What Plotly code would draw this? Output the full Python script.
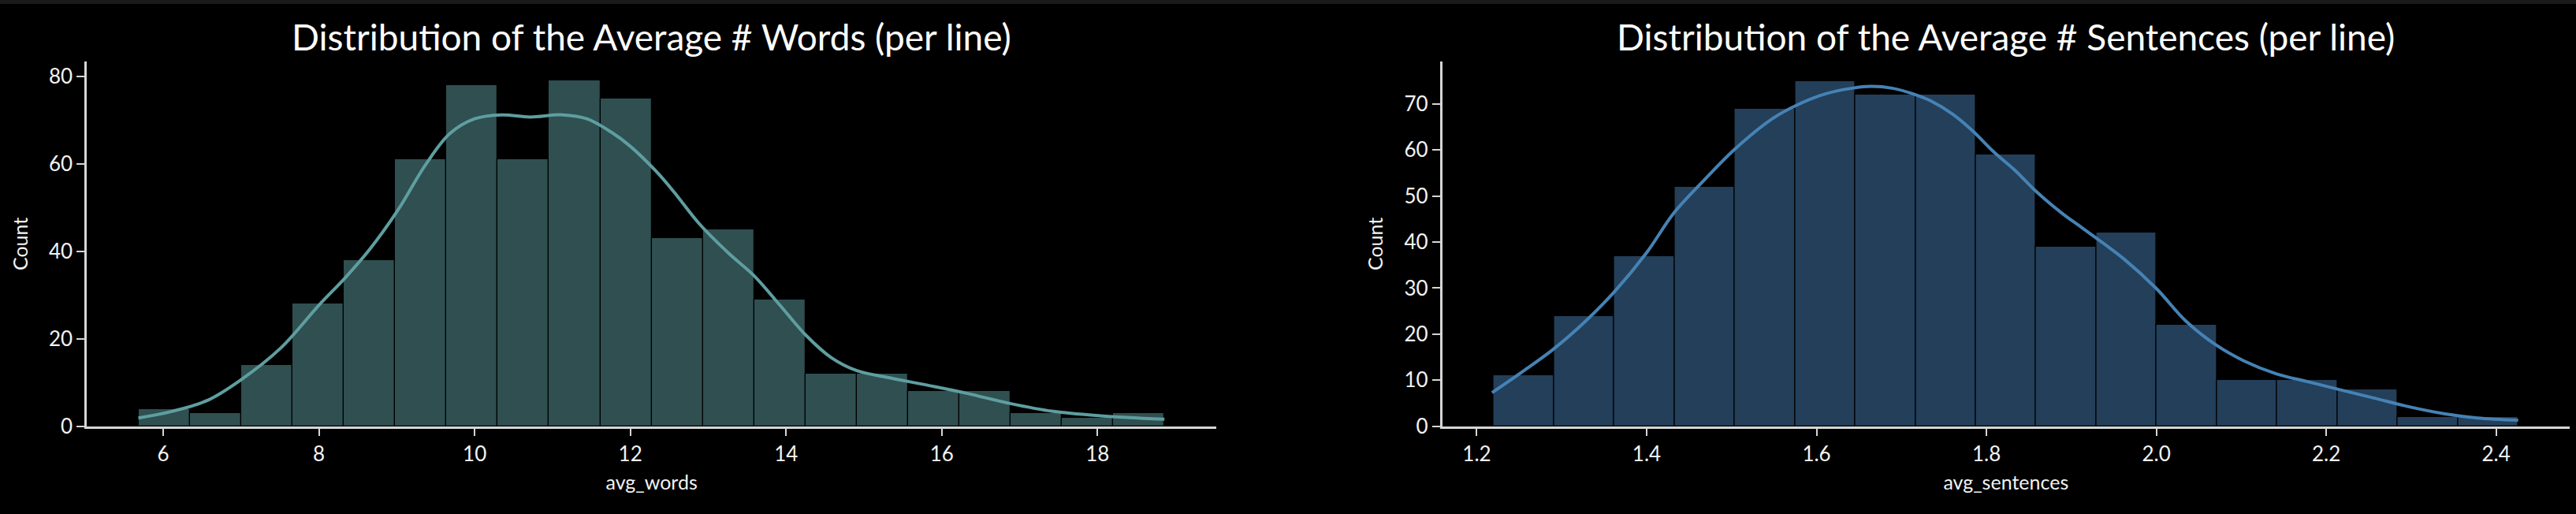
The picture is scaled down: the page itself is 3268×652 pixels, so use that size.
import numpy as np
import plotly.graph_objects as go
from plotly.subplots import make_subplots

# --- data ---
# avg_words histogram (20 equal bins between min and max)
words_min, words_max = 5.685, 18.86
words_counts = [4, 3, 14, 28, 38, 61, 78, 61, 79, 75, 43, 45, 29, 12, 12, 8, 8, 3, 2, 3]
words_kde_x = [5.68, 6.11, 6.58, 6.99, 7.51, 8.0, 8.34, 8.65, 9.01, 9.37, 9.68, 10.0,
               10.35, 10.71, 11.13, 11.44, 11.75, 12.0, 12.33, 12.55, 12.88, 13.26,
               13.59, 13.92, 14.25, 14.58, 14.91, 15.29, 15.84, 16.33, 16.88, 17.43,
               18.04, 18.86]
words_kde_y = [1.9, 3.4, 6.0, 10.5, 17.9, 27.7, 34.0, 40.4, 49.3, 59.8, 66.9, 70.3,
               71.2, 70.7, 71.2, 70.3, 67.3, 64.0, 58.3, 53.8, 46.4, 39.6,
               34.4, 27.7, 20.9, 15.7, 12.7, 11.2, 9.3, 7.5, 5.2, 3.4,
               2.4, 1.6]

# avg_sentences histogram (17 equal bins)
sent_min, sent_max = 1.22, 2.426
sent_counts = [11, 24, 37, 52, 69, 75, 72, 72, 59, 39, 42, 22, 10, 10, 8, 2, 2]
sent_kde_x = [1.218, 1.253, 1.290, 1.328, 1.362, 1.40, 1.432, 1.466, 1.504, 1.549,
              1.580, 1.611, 1.642, 1.664, 1.689, 1.713, 1.735, 1.760, 1.784, 1.809,
              1.834, 1.859, 1.890, 1.914, 1.962, 2.0, 2.035, 2.069, 2.103, 2.141,
              2.18, 2.219, 2.257, 2.296, 2.340, 2.378, 2.426]
sent_kde_y = [7.3, 11.75, 16.7, 22.8, 29.2, 37.7, 46.3, 53.1, 60.2, 66.9,
              70.0, 72.2, 73.4, 73.8, 73.4, 72.2, 70.6, 67.8, 64.1, 59.5,
              55.5, 50.9, 46.1, 42.9, 36.3, 29.9, 22.8, 17.8, 14.2, 11.4,
              9.6, 7.8, 6.1, 4.3, 2.7, 1.8, 1.3]

FONT = "Lato"
AXIS_COL = "#d6d6d6"
TXT_COL = "#f2f2f2"

fig = make_subplots(rows=1, cols=2)


def add_hist(col, lo, hi, counts, kx, ky, bar_col, line_col):
    edges = np.linspace(lo, hi, len(counts) + 1)
    centers = (edges[:-1] + edges[1:]) / 2
    fig.add_trace(go.Bar(x=centers, y=counts, width=edges[1] - edges[0],
                         marker=dict(color=bar_col, line=dict(color="#000000", width=1.2)),
                         showlegend=False), row=1, col=col)
    fig.add_trace(go.Scatter(x=kx, y=ky, mode="lines",
                             line=dict(color=line_col, width=4, shape="spline"),
                             showlegend=False), row=1, col=col)


add_hist(1, words_min, words_max, words_counts, words_kde_x, words_kde_y,
         "rgb(47,79,80)", "#5F9EA0")
add_hist(2, sent_min, sent_max, sent_counts, sent_kde_x, sent_kde_y,
         "rgb(35,63,90)", "#4682B4")

axis_common = dict(showline=True, linecolor=AXIS_COL, linewidth=2.5, showgrid=False,
                   zeroline=False, ticks="outside", ticklen=10, tickwidth=2,
                   tickcolor=AXIS_COL, tickfont=dict(family=FONT, size=26, color=TXT_COL),
                   automargin=False)

fig.update_xaxes(**axis_common)
fig.update_yaxes(**axis_common)

fig.update_xaxes(domain=[0.03366, 0.47225], range=[5.017, 19.529],
                 tickvals=[6, 8, 10, 12, 14, 16, 18],
                 title=dict(text="avg_words", font=dict(family=FONT, size=25, color=TXT_COL),
                            standoff=14), row=1, col=1)
fig.update_xaxes(domain=[0.55985, 0.99755], range=[1.1593, 2.4866],
                 tickvals=[1.2, 1.4, 1.6, 1.8, 2.0, 2.2, 2.4], tickformat=".1f",
                 title=dict(text="avg_sentences", font=dict(family=FONT, size=25, color=TXT_COL),
                            standoff=14), row=1, col=2)
fig.update_yaxes(domain=[0.1707, 0.8804], range=[0, 83.4], tickvals=[0, 20, 40, 60, 80],
                 title=dict(text="Count", font=dict(family=FONT, size=25, color=TXT_COL),
                            standoff=20), row=1, col=1)
fig.update_yaxes(domain=[0.1707, 0.8804], range=[0, 79.2],
                 tickvals=[0, 10, 20, 30, 40, 50, 60, 70],
                 title=dict(text="Count", font=dict(family=FONT, size=25, color=TXT_COL),
                            standoff=20), row=1, col=2)

# plot titles
for xc, txt in [((0.03366 + 0.47225) / 2, "Distribution of the Average # Words (per line)"),
                ((0.55985 + 0.99755) / 2, "Distribution of the Average # Sentences (per line)")]:
    fig.add_annotation(x=xc, y=0.928, xref="paper", yref="paper", text=txt,
                       showarrow=False, xanchor="center", yanchor="middle",
                       font=dict(family=FONT, size=46, color="#ffffff"))

# thin dark strip along the top edge
fig.add_shape(type="rect", xref="paper", yref="paper", x0=0, x1=1, y0=1 - 5 / 652, y1=1,
              fillcolor="#1b1b1b", line=dict(width=0), layer="above")

fig.update_layout(width=3268, height=652, margin=dict(l=0, r=0, t=0, b=0),
                  paper_bgcolor="#000000", plot_bgcolor="#000000", bargap=0)

fig.write_html("out.html", config={"displayModeBar": False},
               post_script="document.body.style.margin='0';document.body.style.background='#000';")
